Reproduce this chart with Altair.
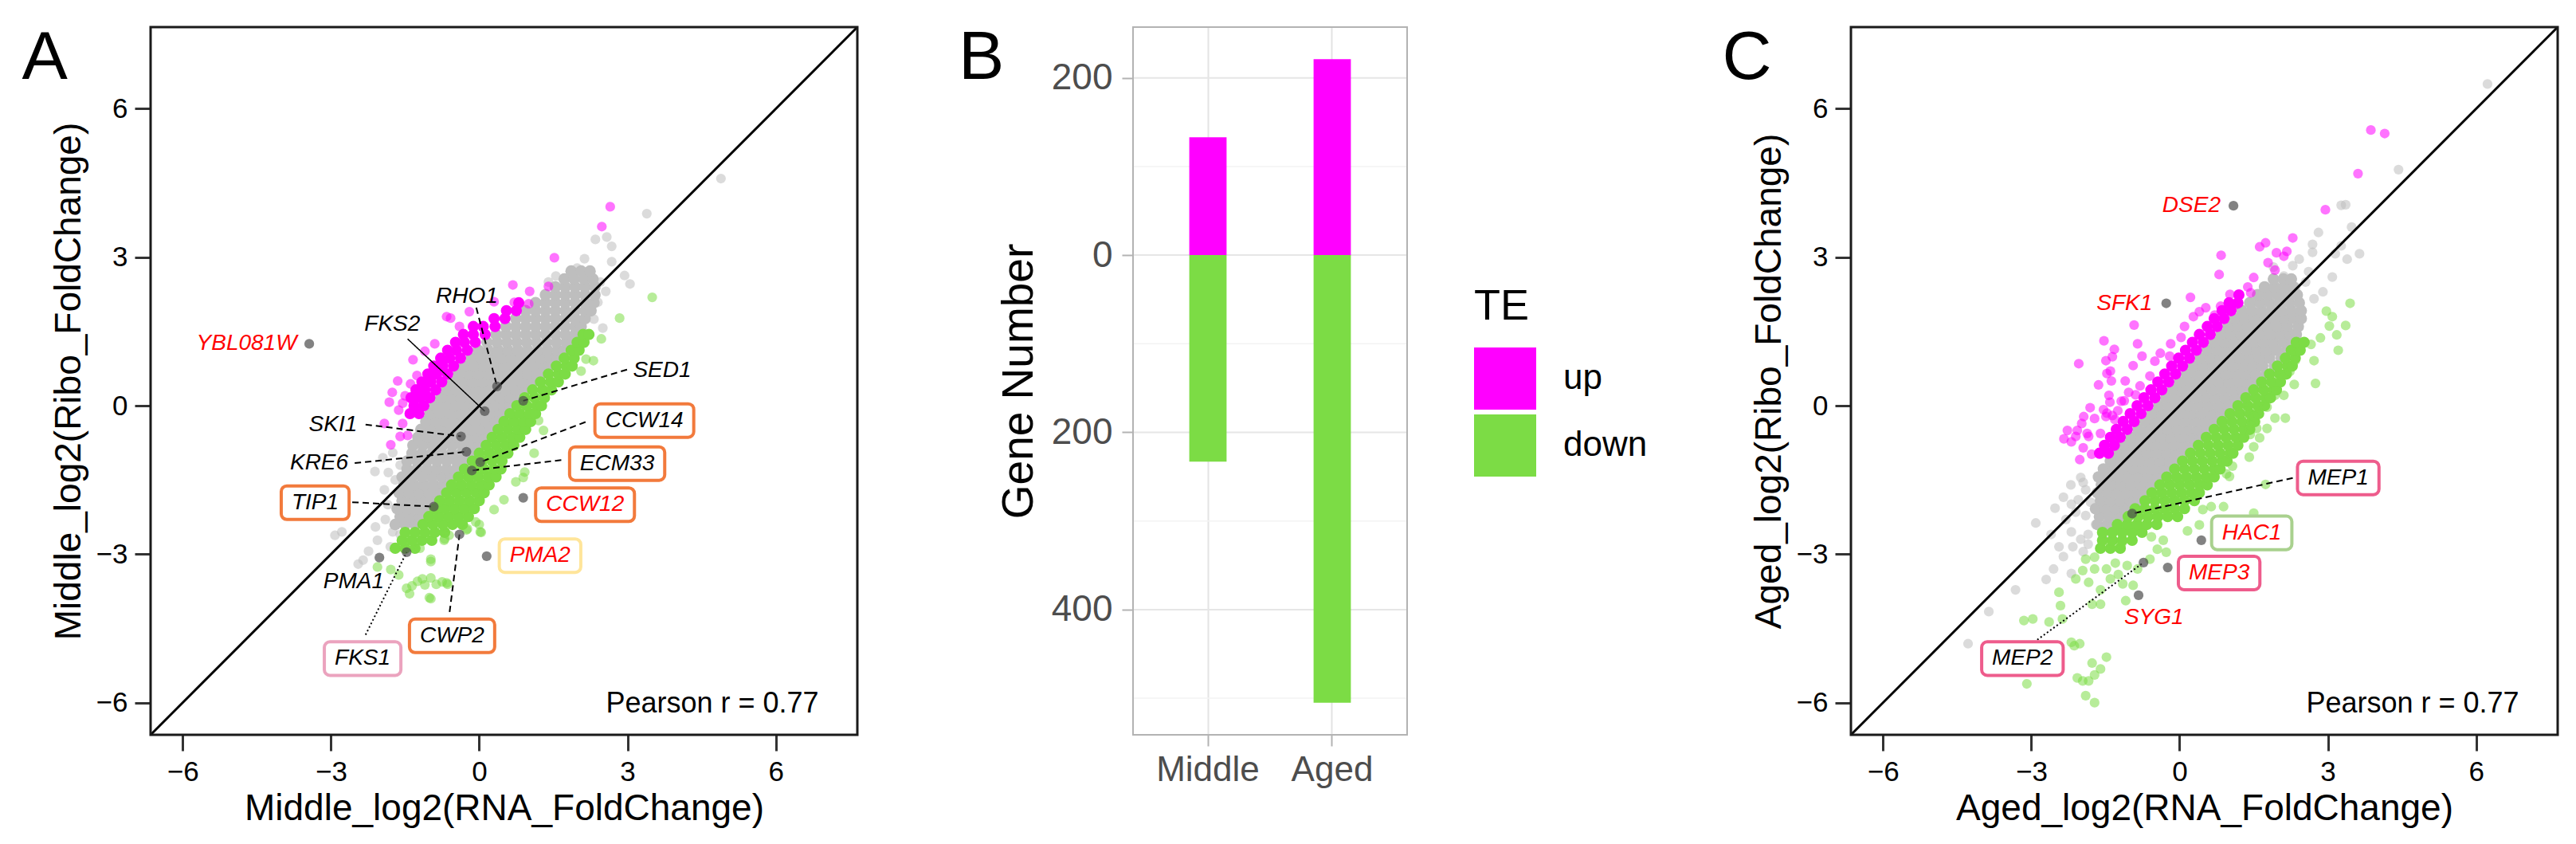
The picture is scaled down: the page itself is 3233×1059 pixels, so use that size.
import altair as alt
import pandas as pd

FONT = "Liberation Sans"
GRAY, MAG, GRN, DARK = "#BEBEBE", "#FF00FF", "#7CDC45", "#4D4D4D"
ORANGE, PINK_L, YELLOW, PINK, LGREEN = "#F27A3C", "#EBA3BE", "#FFE59A", "#EE5C8C", "#A9D18E"
DOM = [-6.65, 7.65]
PXU = 62.0  # pixels per data unit, used only to size label boxes

# ---------------- Panel A : Middle ----------------
A_gray_core = [
    (-2.40, [-1.70, -1.50, -1.30]),
    (-2.24, [-1.60, -1.40, -1.20]),
    (-2.08, [-1.66, -1.46, -1.26, -1.06]),
    (-1.92, [-1.56, -1.36, -1.16, -0.96]),
    (-1.76, [-1.62, -1.42, -1.22, -1.02, -0.82]),
    (-1.60, [-1.52, -1.32, -1.12, -0.92, -0.72]),
    (-1.44, [-1.56, -1.36, -1.16, -0.96, -0.76, -0.56]),
    (-1.28, [-1.46, -1.26, -1.06, -0.86, -0.66, -0.46]),
    (-1.12, [-1.46, -1.26, -1.06, -0.86, -0.66, -0.46, -0.28]),
    (-0.96, [-1.36, -1.16, -0.96, -0.76, -0.56, -0.36, -0.16]),
    (-0.80, [-1.34, -1.14, -0.94, -0.74, -0.54, -0.34, -0.14, 0.00]),
    (-0.64, [-1.24, -1.04, -0.84, -0.64, -0.44, -0.24, -0.04, 0.10]),
    (-0.48, [-1.18, -0.98, -0.78, -0.58, -0.38, -0.18, 0.02, 0.22]),
    (-0.32, [-1.08, -0.88, -0.68, -0.48, -0.28, -0.08, 0.12, 0.32]),
    (-0.16, [-1.00, -0.80, -0.60, -0.40, -0.20, 0.00, 0.20, 0.40, 0.48]),
    (0.00, [-0.90, -0.70, -0.50, -0.30, -0.10, 0.10, 0.30, 0.50, 0.62]),
    (0.16, [-0.78, -0.58, -0.38, -0.18, 0.02, 0.22, 0.42, 0.62, 0.78]),
    (0.32, [-0.66, -0.46, -0.26, -0.06, 0.14, 0.34, 0.54, 0.74, 0.94]),
    (0.48, [-0.54, -0.34, -0.14, 0.06, 0.26, 0.46, 0.66, 0.86, 1.06]),
    (0.64, [-0.42, -0.22, -0.02, 0.18, 0.38, 0.58, 0.78, 0.98, 1.18, 1.26]),
    (0.80, [-0.30, -0.10, 0.10, 0.30, 0.50, 0.70, 0.90, 1.10, 1.30, 1.42]),
    (0.96, [-0.16, 0.04, 0.24, 0.44, 0.64, 0.84, 1.04, 1.24, 1.44, 1.58]),
    (1.12, [-0.02, 0.18, 0.38, 0.58, 0.78, 0.98, 1.18, 1.38, 1.58, 1.72]),
    (1.28, [0.16, 0.36, 0.56, 0.76, 0.96, 1.16, 1.36, 1.56, 1.76, 1.84]),
    (1.44, [0.34, 0.54, 0.74, 0.94, 1.14, 1.34, 1.54, 1.74, 1.94]),
    (1.60, [0.54, 0.74, 0.94, 1.14, 1.34, 1.54, 1.74, 1.94, 2.06]),
    (1.76, [0.74, 0.94, 1.14, 1.34, 1.54, 1.74, 1.94, 2.14]),
    (1.92, [0.94, 1.14, 1.34, 1.54, 1.74, 1.94, 2.14, 2.26]),
    (2.08, [1.14, 1.34, 1.54, 1.74, 1.94, 2.14, 2.32]),
    (2.24, [1.34, 1.54, 1.74, 1.94, 2.14, 2.34]),
    (2.40, [1.54, 1.74, 1.94, 2.14, 2.34]),
    (2.56, [1.72, 1.92, 2.12, 2.30]),
    (2.72, [1.86, 2.06, 2.24]),
]
A_gray_sparse = [
    (4.89, 4.59), (3.39, 3.88), (2.58, 3.41), (2.35, 3.36), (2.68, 3.22), (2.13, 2.97),
    (1.98, 2.78), (2.21, 2.70), (2.68, 2.91), (2.94, 2.63), (3.05, 2.46), (2.56, 2.31),
    (2.40, 2.09), (2.32, 1.75), (2.50, 1.57), (2.45, 2.50), (1.55, 2.62), (1.40, 2.50),
    (-2.92, -2.62), (-2.78, -2.55), (-2.24, -2.94), (-2.35, -3.12), (-2.06, -2.72),
    (-2.11, -1.33), (-1.84, -1.35), (-1.92, -1.70), (-1.85, -2.00), (-1.90, -2.30),
    (-1.75, -2.55), (-1.60, -2.60), (-1.80, -2.85), (-2.10, -2.45), (-1.95, -1.05),
    (-1.75, -0.95), (-1.60, -1.20), (-1.70, -1.50), (-1.55, -2.75), (-2.45, -3.20),
]
A_down_core = [
    (-2.88, [-1.70, -1.50, -1.30]),
    (-2.72, [-1.56, -1.36, -1.16, -0.96]),
    (-2.56, [-1.50, -1.30, -1.10, -0.90, -0.70]),
    (-2.40, [-1.14, -0.94, -0.74, -0.54, -0.34]),
    (-2.24, [-1.02, -0.82, -0.62, -0.42, -0.22]),
    (-2.08, [-0.90, -0.70, -0.50, -0.30, -0.10]),
    (-1.92, [-0.80, -0.60, -0.40, -0.20, 0.00]),
    (-1.76, [-0.66, -0.46, -0.26, -0.06, 0.10]),
    (-1.60, [-0.56, -0.36, -0.16, 0.04, 0.20]),
    (-1.44, [-0.42, -0.22, -0.02, 0.18, 0.34]),
    (-1.28, [-0.30, -0.10, 0.10, 0.30, 0.44]),
    (-1.12, [-0.14, 0.06, 0.26, 0.46]),
    (-0.96, [0.00, 0.20, 0.40, 0.58]),
    (-0.80, [0.14, 0.34, 0.54, 0.70]),
    (-0.64, [0.26, 0.46, 0.66, 0.82]),
    (-0.48, [0.38, 0.58, 0.78, 0.94]),
    (-0.32, [0.50, 0.70, 0.90, 1.04]),
    (-0.16, [0.62, 0.82, 1.02, 1.14]),
    (0.00, [0.76, 0.96, 1.16, 1.26]),
    (0.16, [0.92, 1.12, 1.32]),
    (0.32, [1.08, 1.28, 1.46]),
    (0.48, [1.24, 1.44, 1.60]),
    (0.64, [1.40, 1.60, 1.74]),
    (0.80, [1.56, 1.76, 1.88]),
    (0.96, [1.72, 1.92]),
    (1.12, [1.86, 2.02]),
    (1.28, [1.98, 2.12]),
    (1.44, [2.10, 2.22]),
]
A_down_sparse = [
    (3.50, 2.19), (2.84, 1.77), (2.47, 1.35), (2.16, 0.94), (2.31, 0.91), (2.06, 0.70),
    (1.11, -0.96), (0.89, -1.45), (0.92, -1.34), (0.74, -1.54), (0.00, -2.40), (0.02, -2.55),
    (-0.24, -2.49), (-0.70, -2.69), (-0.98, -3.15), (-0.75, -3.56), (-0.87, -3.61),
    (-0.64, -3.61), (-0.98, -3.90), (-0.61, -2.62), (-0.26, -2.51), (-0.07, -2.35),
    (0.04, -2.56), (-0.71, -2.72), (-0.98, -3.10), (-0.66, -3.58), (-1.01, -3.88),
    (-1.47, -3.69), (-1.36, -3.64), (-1.15, -3.50), (-0.98, -3.48), (-1.63, -3.42),
    (-1.41, -3.80), (-2.06, -3.26), (-1.79, -3.31), (-1.20, -2.88), (1.30, -0.50),
    (1.20, -0.30), (0.50, -1.90), (0.30, -2.10), (-1.25, -3.55), (-1.10, -3.62),
]
A_up_core = [
    (-0.16, [-1.40, -1.22]), (0.00, [-1.32, -1.12]), (0.16, [-1.38, -1.20, -1.00]),
    (0.32, [-1.28, -1.10, -0.88]), (0.48, [-1.16, -0.98, -0.76]), (0.64, [-1.04, -0.86, -0.64]),
    (0.80, [-0.92, -0.74, -0.52]), (0.96, [-0.78, -0.60, -0.38]), (1.12, [-0.64, -0.46, -0.24]),
    (1.28, [-0.48, -0.30, -0.08]), (1.44, [-0.32, -0.12, 0.12]), (1.60, [-0.12, 0.08, 0.32]),
    (1.76, [0.30, 0.52]), (1.92, [0.55, 0.75]), (2.08, [0.80]),
]
A_up_sparse = [
    (-1.34, 0.93), (-1.39, 0.44), (-1.26, 0.61), (-1.76, 0.27), (-1.82, 0.07), (-1.63, -0.09),
    (-1.92, -0.36), (-1.55, -0.36), (-1.60, -0.62), (-1.79, -0.79), (-0.66, 1.80), (-0.58, 1.77),
    (0.68, 2.44), (1.02, 2.31), (1.40, 2.41), (0.71, 2.09), (1.00, 2.06), (1.52, 2.99),
    (2.48, 3.62), (2.65, 4.02), (-1.50, 0.20), (-1.10, 1.10), (-0.90, 1.25), (-0.40, 1.60),
    (-1.55, 0.05), (-1.65, 0.50), (-0.20, 1.90), (0.30, 2.10), (-1.45, -0.60),
]
A_genes = [
    ("YBL081W", -3.44, 1.25), ("RHO1", 0.36, 0.39), ("FKS2", 0.11, -0.11), ("SED1", 0.89, 0.10),
    ("SKI1", -0.37, -0.62), ("KRE6", -0.26, -0.93), ("CCW14", 0.02, -1.14), ("ECM33", -0.15, -1.31),
    ("TIP1", -0.92, -2.04), ("CCW12", 0.89, -1.86), ("CWP2", -0.40, -2.60), ("PMA2", 0.15, -3.04),
    ("PMA1", -2.02, -3.07), ("FKS1", -1.47, -2.96),
]
A_lines = [
    (-0.06, 1.98, 0.36, 0.39, "dash"), (-1.45, 1.35, 0.11, -0.11, "solid"),
    (2.99, 0.73, 0.89, 0.10, "dash"), (-2.30, -0.38, -0.37, -0.62, "dash"),
    (-2.52, -1.16, -0.26, -0.93, "dash"), (-2.57, -1.95, -0.92, -2.04, "dash"),
    (2.15, -0.33, 0.02, -1.14, "dash"), (1.66, -1.10, -0.15, -1.31, "dash"),
    (-0.60, -4.17, -0.40, -2.60, "dash"), (-2.30, -4.63, -1.47, -2.96, "dot"),
]
A_text_center = [("RHO1", -0.25, 2.20, "black"), ("FKS2", -1.76, 1.65, "black"),
                 ("SED1", 3.70, 0.71, "black"), ("PMA1", -2.54, -3.56, "black")]
A_text_right = [("YBL081W", -3.69, 1.25, "red"), ("SKI1", -2.47, -0.38, "black"),
                ("KRE6", -2.65, -1.16, "black")]
A_boxed = [("TIP1", -3.32, -1.96, "black", ORANGE), ("CCW14", 3.34, -0.30, "black", ORANGE),
           ("ECM33", 2.79, -1.17, "black", ORANGE), ("CCW12", 2.14, -2.00, "red", ORANGE),
           ("PMA2", 1.23, -3.03, "red", YELLOW), ("CWP2", -0.55, -4.65, "black", ORANGE),
           ("FKS1", -2.36, -5.11, "black", PINK_L)]

# ---------------- Panel B ----------------
B_cat = ["Middle", "Aged"]
B_up = [133, 221]
B_down = [233, 505]
B_major = [-400, -200, 0, 200]
B_minor = [-500, -300, -100, 100]

# ---------------- Panel C : Aged ----------------
C_gray_core = [
    (-2.40, [-1.66, -1.46]),
    (-2.24, [-1.62, -1.42, -1.22]),
    (-2.08, [-1.70, -1.50, -1.30, -1.10]),
    (-1.92, [-1.60, -1.40, -1.20, -1.00, -0.84]),
    (-1.76, [-1.66, -1.46, -1.26, -1.06, -0.86, -0.68]),
    (-1.60, [-1.58, -1.38, -1.18, -0.98, -0.78, -0.58]),
    (-1.44, [-1.64, -1.44, -1.24, -1.04, -0.84, -0.64, -0.44]),
    (-1.28, [-1.54, -1.34, -1.14, -0.94, -0.74, -0.54, -0.34, -0.20]),
    (-1.12, [-1.40, -1.20, -1.00, -0.80, -0.60, -0.40, -0.20, -0.04]),
    (-0.96, [-1.26, -1.06, -0.86, -0.66, -0.46, -0.26, -0.06, 0.12]),
    (-0.80, [-1.12, -0.92, -0.72, -0.52, -0.32, -0.12, 0.08, 0.28]),
    (-0.64, [-0.98, -0.78, -0.58, -0.38, -0.18, 0.02, 0.22, 0.42]),
    (-0.48, [-0.84, -0.64, -0.44, -0.24, -0.04, 0.16, 0.36, 0.56]),
    (-0.32, [-0.70, -0.50, -0.30, -0.10, 0.10, 0.30, 0.50, 0.70, 0.78]),
    (-0.16, [-0.56, -0.36, -0.16, 0.04, 0.24, 0.44, 0.64, 0.84, 0.92]),
    (0.00, [-0.42, -0.22, -0.02, 0.18, 0.38, 0.58, 0.78, 0.98, 1.10]),
    (0.16, [-0.28, -0.08, 0.12, 0.32, 0.52, 0.72, 0.92, 1.12, 1.28]),
    (0.32, [-0.14, 0.06, 0.26, 0.46, 0.66, 0.86, 1.06, 1.26, 1.44]),
    (0.48, [0.00, 0.20, 0.40, 0.60, 0.80, 1.00, 1.20, 1.40, 1.60]),
    (0.64, [0.14, 0.34, 0.54, 0.74, 0.94, 1.14, 1.34, 1.54, 1.76]),
    (0.80, [0.28, 0.48, 0.68, 0.88, 1.08, 1.28, 1.48, 1.68, 1.92]),
    (0.96, [0.42, 0.62, 0.82, 1.02, 1.22, 1.42, 1.62, 1.82, 2.06]),
    (1.12, [0.56, 0.76, 0.96, 1.16, 1.36, 1.56, 1.76, 1.96, 2.18]),
    (1.28, [0.70, 0.90, 1.10, 1.30, 1.50, 1.70, 1.90, 2.10, 2.28]),
    (1.44, [0.84, 1.04, 1.24, 1.44, 1.64, 1.84, 2.04, 2.24, 2.36]),
    (1.60, [0.98, 1.18, 1.38, 1.58, 1.78, 1.98, 2.18, 2.40]),
    (1.76, [1.12, 1.32, 1.52, 1.72, 1.92, 2.12, 2.32, 2.46]),
    (1.92, [1.26, 1.46, 1.66, 1.86, 2.06, 2.26, 2.46]),
    (2.08, [1.42, 1.62, 1.82, 2.02, 2.22, 2.42]),
    (2.24, [1.58, 1.78, 1.98, 2.18, 2.38]),
    (2.40, [1.72, 1.92, 2.12, 2.30]),
    (2.56, [1.90, 2.10, 2.26]),
]
C_gray_sparse = [
    (6.23, 6.50), (4.43, 4.77), (3.27, 4.05), (3.36, 4.06), (2.81, 3.50), (3.48, 3.61),
    (2.69, 3.26), (2.69, 3.10), (3.15, 3.07), (3.27, 3.23), (3.39, 2.96), (3.64, 3.07),
    (2.61, 2.71), (3.09, 2.60), (2.42, 2.96), (2.29, 2.83), (2.11, 2.62), (2.35, 2.40),
    (2.72, 2.16), (2.90, 2.30), (2.55, 2.50), (1.90, 2.80), (2.00, 2.50),
    (-2.52, -2.07), (-2.91, -2.37), (-2.19, -1.99), (-2.05, -1.90), (-1.90, -2.22),
    (-2.19, -2.55), (-2.44, -2.85), (-2.16, -2.85), (-2.00, -2.70), (-2.55, -3.30),
    (-2.70, -3.51), (-2.19, -3.39), (-3.32, -3.72), (-3.86, -4.16), (-4.28, -4.81),
    (-1.85, -2.60), (-1.95, -2.95), (-2.35, -3.05), (-2.60, -2.60), (-2.30, -2.30),
    (-1.90, -1.70), (-2.00, -1.45), (-2.20, -1.60), (-1.95, -1.55), (-2.35, -1.85),
    (-1.80, -1.95), (-2.10, -2.15), (-1.70, -2.40), (-1.55, -2.65), (-1.85, -2.80),
]
C_down_core = [
    (-2.88, [-1.60, -1.40, -1.20]),
    (-2.72, [-1.56, -1.36, -1.16, -0.96]),
    (-2.56, [-1.56, -1.36, -1.16, -0.96, -0.76]),
    (-2.40, [-1.26, -1.06, -0.86, -0.66, -0.46]),
    (-2.24, [-1.04, -0.84, -0.64, -0.44, -0.24, -0.04]),
    (-2.08, [-0.90, -0.70, -0.50, -0.30, -0.10, 0.10]),
    (-1.92, [-0.70, -0.50, -0.30, -0.10, 0.10, 0.30]),
    (-1.76, [-0.56, -0.36, -0.16, 0.04, 0.24, 0.40]),
    (-1.60, [-0.40, -0.20, 0.00, 0.20, 0.40, 0.56]),
    (-1.44, [-0.26, -0.06, 0.14, 0.34, 0.54, 0.70]),
    (-1.28, [-0.10, 0.10, 0.30, 0.50, 0.70, 0.82]),
    (-1.12, [0.06, 0.26, 0.46, 0.66, 0.86, 0.96]),
    (-0.96, [0.22, 0.42, 0.62, 0.82, 1.02, 1.08]),
    (-0.80, [0.38, 0.58, 0.78, 0.98, 1.18]),
    (-0.64, [0.54, 0.74, 0.94, 1.14, 1.30]),
    (-0.48, [0.70, 0.90, 1.10, 1.30, 1.42]),
    (-0.32, [0.86, 1.06, 1.26, 1.46, 1.52]),
    (-0.16, [1.02, 1.22, 1.42, 1.60]),
    (0.00, [1.18, 1.38, 1.58, 1.72]),
    (0.16, [1.34, 1.54, 1.74, 1.84]),
    (0.32, [1.50, 1.70, 1.90, 1.96]),
    (0.48, [1.66, 1.86, 2.04]),
    (0.64, [1.82, 2.02, 2.16]),
    (0.80, [1.98, 2.18, 2.28]),
    (0.96, [2.14, 2.34]),
    (1.12, [2.26, 2.44]),
    (1.28, [2.36, 2.52]),
]
C_down_sparse = [
    (3.45, 2.07), (3.36, 1.62), (3.18, 1.43), (3.21, 1.12), (2.72, 0.91), (2.75, 0.45),
    (2.34, 0.91), (2.23, 0.69), (2.32, 0.43), (2.11, 0.21), (1.93, 0.21), (2.14, -0.25),
    (1.93, -0.25), (1.77, -0.46), (1.50, -0.83), (1.62, -0.65), (1.44, -0.40), (1.38, -0.10),
    (3.03, 1.61), (3.09, 1.80), (2.85, 1.37), (2.66, 1.24), (2.97, 1.91), (1.77, -0.03),
    (1.50, -0.21), (1.56, -0.46), (1.43, -0.58), (1.41, -1.04), (1.07, -1.22), (0.95, -1.38),
    (1.01, -1.43), (1.74, -1.59), (0.89, -2.04), (0.64, -2.04), (0.47, -2.10), (1.50, -2.17),
    (0.40, -2.41), (0.16, -2.53), (-0.33, -2.72), (-0.57, -2.65), (-0.27, -2.96),
    (-0.94, -3.63), (-1.09, -3.94), (-1.96, -3.33), (-1.72, -3.30), (-1.48, -3.30),
    (-1.24, -3.41), (-1.06, -3.23), (-1.84, -3.57), (-1.60, -3.72), (-1.77, -4.01),
    (-1.60, -4.01), (-2.44, -3.77), (-2.41, -4.04), (-2.37, -4.31), (-2.64, -4.37),
    (-2.97, -4.31), (-3.15, -4.34), (-2.19, -4.78), (-2.02, -4.81), (-2.13, -4.85),
    (-1.48, -5.08), (-1.77, -5.20), (-1.60, -5.32), (-1.72, -5.44), (-1.96, -5.56),
    (-2.07, -5.50), (-1.84, -5.56), (-3.09, -5.62), (-1.90, -5.86), (-1.72, -6.00),
    (-1.72, -3.06), (-1.30, -3.18), (-1.18, -2.81), (-1.40, -3.50), (-1.15, -3.60),
    (-0.85, -3.30), (-0.60, -3.10), (-0.45, -2.90), (-1.90, -3.10), (-2.10, -3.50),
]
C_up_core = [
    (-0.96, [-1.62, -1.44]), (-0.80, [-1.52, -1.32]), (-0.64, [-1.40, -1.20]),
    (-0.48, [-1.28, -1.06]), (-0.32, [-1.14, -0.92]), (-0.16, [-1.00, -0.78]),
    (0.00, [-0.86, -0.64]), (0.16, [-0.72, -0.50]), (0.32, [-0.58, -0.36]),
    (0.48, [-0.44, -0.22]), (0.64, [-0.30, -0.08]), (0.80, [-0.16, 0.06]),
    (0.96, [-0.02, 0.20]), (1.12, [0.12, 0.34]), (1.28, [0.26, 0.48]),
    (1.44, [0.40, 0.62]), (1.60, [0.56, 0.76]), (1.76, [0.70, 0.90]),
    (1.92, [0.86, 1.04]), (2.08, [1.00, 1.18]), (2.24, [1.20]),
]
C_up_sparse = [
    (3.87, 5.57), (4.15, 5.50), (3.61, 4.69), (2.95, 3.96), (2.29, 3.39), (1.62, 3.21),
    (1.74, 3.29), (1.96, 3.09), (2.17, 3.12), (2.11, 3.02), (1.79, 2.89), (1.93, 2.74),
    (0.84, 3.04), (0.80, 2.65), (1.50, 2.59), (1.38, 2.40), (1.44, 2.28), (0.22, 2.19),
    (1.02, 2.25), (1.14, 2.04), (0.53, 1.98), (0.83, 2.01), (0.71, 1.83), (0.28, 1.80),
    (-0.85, 1.25), (-1.49, 0.91), (-1.40, 0.70), (-1.38, 0.50), (-0.94, 0.81), (-0.76, 1.00),
    (-0.39, 1.06), (0.03, 1.38), (-0.18, 1.25), (-1.03, 0.27), (-1.43, 0.21), (-1.18, 0.09),
    (-1.49, -0.22), (-1.31, -0.28), (-1.37, -0.65), (-1.53, 1.31), (-1.32, 1.14), (-1.36, 0.99),
    (-2.04, 0.85), (-1.47, 0.65), (-1.64, 0.42), (-1.81, -0.04), (-1.94, -0.22), (-1.98, -0.36),
    (-2.27, -0.50), (-2.34, -0.67), (-2.10, -0.62), (-1.87, -0.56), (-1.47, -0.15), (-1.41, 0.07),
    (-1.25, -0.10), (-0.92, 1.63), (-2.07, -0.50), (-2.19, -0.73), (-1.84, -0.62),
    (-1.95, -0.85), (-1.60, -0.56), (-1.78, -0.98), (-2.02, -1.09), (-1.54, -0.08), (-1.72, -0.26),
    (-1.36, -0.20), (-1.12, 0.10), (-0.89, 0.22), (-0.60, 0.60), (-0.50, 0.90), (-0.20, 1.00),
    (0.10, 1.60), (0.40, 1.90), (-1.10, 0.50), (-0.80, 0.40),
]
C_genes = [
    ("DSE2", 1.09, 4.04), ("SFK1", -0.27, 2.07), ("MEP1", -0.96, -2.18), ("HAC1", 0.44, -2.72),
    ("MEP3", -0.24, -3.27), ("SYG1", -0.83, -3.83), ("MEP2", -0.73, -3.17),
]
C_lines = [(2.29, -1.46, -0.96, -2.18, "dash"), (-2.88, -4.73, -0.73, -3.17, "dot")]
C_text_center = [("SYG1", -0.52, -4.28, "red")]
C_text_right = [("DSE2", 0.83, 4.04, "red"), ("SFK1", -0.55, 2.07, "red")]
C_boxed = [("MEP1", 3.21, -1.46, "black", PINK), ("HAC1", 1.46, -2.57, "red", LGREEN),
           ("MEP3", 0.80, -3.38, "red", PINK), ("MEP2", -3.18, -5.11, "black", PINK)]

# ---------------- helpers ----------------
CW = {'A': .667, 'B': .667, 'C': .722, 'D': .722, 'E': .667, 'F': .611, 'G': .778, 'H': .722,
      'I': .278, 'K': .667, 'L': .556, 'M': .833, 'N': .722, 'O': .778, 'P': .667, 'R': .722,
      'S': .667, 'T': .611, 'W': .944, 'Y': .667}
LABEL_FS = 28
W_PLOT, H_PLOT = 887, 888


def text_w(s):
    return sum(CW.get(ch, .556) for ch in s) * LABEL_FS


def rows_df(rows):
    return pd.DataFrame([(x, y) for y, xs in rows for x in xs], columns=["x", "y"])


def pts_df(pts):
    return pd.DataFrame(pts, columns=["x", "y"])


def scatter_panel(letter, xtitle, ytitle, gray_core, gray_sparse, down_core, down_sparse,
                  up_core, up_sparse, genes, lines, t_center, t_right, boxed):
    sc = alt.Scale(domain=DOM, nice=False, zero=False)
    common = dict(domain=False, grid=False, ticks=True, tickSize=20, tickWidth=3,
                  tickColor="#333333", labelFontSize=35, labelColor="#000000", labelFont=FONT,
                  labelPadding=9, titleFontSize=46, titleFont=FONT, titleFontWeight="normal",
                  titleColor="#000000", values=[-6, -3, 0, 3, 6])
    ax_x = alt.Axis(title=xtitle, titlePadding=6, **common)
    ax_y = alt.Axis(title=ytitle, titlePadding=10, **common)

    def X(f):
        return alt.X(f, type="quantitative", scale=sc, axis=ax_x)

    def Y(f):
        return alt.Y(f, type="quantitative", scale=sc, axis=ax_y)

    def circles(df, color, op, size):
        return alt.Chart(df).mark_circle(color=color, opacity=op, size=size).encode(x=X("x"), y=Y("y"))

    layers = [
        circles(pts_df(gray_sparse), GRAY, 0.55, 150),
        circles(rows_df(gray_core), GRAY, 1.0, 215),
        circles(rows_df(down_core), GRN, 1.0, 200),
        circles(pts_df(down_sparse), GRN, 0.55, 150),
        circles(rows_df(up_core), MAG, 1.0, 200),
        circles(pts_df(up_sparse), MAG, 0.55, 150),
    ]
    diag = pd.DataFrame({"x": [DOM[0]], "y": [DOM[0]], "x2": [DOM[1]], "y2": [DOM[1]]})
    layers.append(alt.Chart(diag).mark_rule(color="#000000", strokeWidth=3).encode(
        x=X("x"), y=Y("y"), x2="x2:Q", y2="y2:Q"))
    ldf = pd.DataFrame(lines, columns=["x", "y", "x2", "y2", "s"])
    for style, dash, w in [("dash", [8, 5], 2), ("dot", [2, 3], 2), ("solid", [1, 0], 1.5)]:
        sub = ldf[ldf.s == style]
        if len(sub):
            layers.append(alt.Chart(sub).mark_rule(color="#000000", strokeWidth=w, strokeDash=dash).encode(
                x=X("x"), y=Y("y"), x2="x2:Q", y2="y2:Q"))
    gdf = pd.DataFrame(genes, columns=["g", "x", "y"])
    layers.append(circles(gdf, DARK, 0.7, 150))
    bdf = pd.DataFrame(boxed, columns=["g", "x", "y", "tc", "bc"])
    bdf["x1"] = bdf.x - (bdf.g.map(text_w) + 26) / 2 / PXU
    bdf["x2"] = bdf.x + (bdf.g.map(text_w) + 26) / 2 / PXU
    bdf["y1"] = bdf.y - 21 / PXU
    bdf["y2"] = bdf.y + 21 / PXU
    layers.append(alt.Chart(bdf).mark_rect(fill="#FFFFFF", strokeWidth=4, cornerRadius=7).encode(
        x=X("x1"), x2="x2:Q", y=Y("y1"), y2="y2:Q", stroke=alt.Stroke("bc:N", scale=None)))
    tdf = pd.concat([bdf[["g", "x", "y", "tc"]],
                     pd.DataFrame(t_center, columns=["g", "x", "y", "tc"])])
    layers.append(alt.Chart(tdf).mark_text(font=FONT, fontSize=LABEL_FS, fontStyle="italic",
                                           align="center", baseline="middle").encode(
        x=X("x"), y=Y("y"), text="g:N", color=alt.Color("tc:N", scale=None)))
    rdf = pd.DataFrame(t_right, columns=["g", "x", "y", "tc"])
    layers.append(alt.Chart(rdf).mark_text(font=FONT, fontSize=LABEL_FS, fontStyle="italic",
                                           align="right", baseline="middle").encode(
        x=X("x"), y=Y("y"), text="g:N", color=alt.Color("tc:N", scale=None)))
    pdf = pd.DataFrame({"x": [6.87], "y": [-6.2], "t": ["Pearson r = 0.77"]})
    layers.append(alt.Chart(pdf).mark_text(font=FONT, fontSize=36, align="right",
                                           baseline="alphabetic", color="#000000").encode(
        x=X("x"), y=Y("y"), text="t:N"))
    frame = alt.Chart(pd.DataFrame({"a": [0]})).mark_rect(
        fillOpacity=0, stroke="#1A1A1A", strokeWidth=3).encode(
        x=alt.value(0), x2=alt.value(W_PLOT), y=alt.value(0), y2=alt.value(H_PLOT))
    layers.append(frame)
    let = pd.DataFrame({"t": [letter]})
    layers.append(alt.Chart(let).mark_text(font=FONT, fontSize=86, align="left",
                                           baseline="alphabetic", color="#000000").encode(
        x=alt.value(-161.6), y=alt.value(65), text="t:N"))
    return alt.layer(*layers).properties(width=W_PLOT, height=H_PLOT)


A = scatter_panel("A", "Middle_log2(RNA_FoldChange)", "Middle_log2(Ribo_FoldChange)",
                  A_gray_core, A_gray_sparse, A_down_core, A_down_sparse, A_up_core, A_up_sparse,
                  A_genes, A_lines, A_text_center, A_text_right, A_boxed)
C = scatter_panel("C", "Aged_log2(RNA_FoldChange)", "Aged_log2(Ribo_FoldChange)",
                  C_gray_core, C_gray_sparse, C_down_core, C_down_sparse, C_up_core, C_up_sparse,
                  C_genes, C_lines, C_text_center, C_text_right, C_boxed)

# ---------------- Panel B ----------------
bars = []
for c, u, d in zip(B_cat, B_up, B_down):
    bars.append({"cat": c, "TE": "up", "v": u, "v0": 0})
    bars.append({"cat": c, "TE": "down", "v": -d, "v0": 0})
bars = pd.DataFrame(bars)
ysB = alt.Scale(domain=[-541.3, 257.3], nice=False, zero=False)
axB_y = alt.Axis(values=B_major, labelExpr="'' + abs(datum.value)", grid=False, domain=False,
                 tickColor="#B3B3B3", tickSize=14, tickWidth=2, labelFontSize=46,
                 labelColor="#4D4D4D", labelFont=FONT, labelPadding=12, title="Gene Number",
                 titleFontSize=55, titleFont=FONT, titleFontWeight="normal", titleColor="#000000",
                 titlePadding=12)
xsB = alt.Scale(domain=B_cat, range=[0, 344], paddingInner=0.7, paddingOuter=0.4526)
axB_x = alt.Axis(title=None, labelAngle=0, grid=True, gridColor="#E3E3E3", gridWidth=2,
                 domain=False, tickColor="#B3B3B3", tickSize=14, tickWidth=2, bandPosition=0.5,
                 labelPadding=8, labelFontSize=44, labelColor="#4D4D4D", labelFont=FONT)
minor_df = pd.DataFrame({"v": B_minor})
major_df = pd.DataFrame({"v": B_major})
gridB_minor = alt.Chart(minor_df).mark_rule(color="#F3F3F3", strokeWidth=1.5).encode(
    y=alt.Y("v:Q", scale=ysB, axis=axB_y), x=alt.value(0), x2=alt.value(344))
gridB_major = alt.Chart(major_df).mark_rule(color="#E6E6E6", strokeWidth=2).encode(
    y=alt.Y("v:Q", scale=ysB, axis=axB_y), x=alt.value(0), x2=alt.value(344))
# legend position is relative to the whole concatenated chart (origin = panel A plot corner)
barsB = alt.Chart(bars).mark_bar().encode(
    x=alt.X("cat:N", scale=xsB, axis=axB_x, sort=B_cat),
    y=alt.Y("v:Q", scale=ysB, axis=axB_y), y2="v0:Q",
    color=alt.Color("TE:N", scale=alt.Scale(domain=["up", "down"], range=[MAG, GRN]),
                    legend=alt.Legend(title="TE", orient="none", legendX=1661, legendY=324,
                                      symbolType="square", symbolSize=6084, symbolStrokeWidth=0,
                                      symbolOpacity=1, titleFontSize=54, titleFont=FONT,
                                      titleFontWeight="normal", titleColor="#000000",
                                      labelFontSize=44, labelFont=FONT, labelColor="#000000",
                                      labelOffset=34, titlePadding=24, rowPadding=6)))
frameB = alt.Chart(pd.DataFrame({"a": [0]})).mark_rect(
    fillOpacity=0, stroke="#B3B3B3", strokeWidth=2).encode(
    x=alt.value(0), x2=alt.value(344), y=alt.value(0), y2=alt.value(H_PLOT))
letterB = alt.Chart(pd.DataFrame({"t": ["B"]})).mark_text(
    font=FONT, fontSize=86, align="left", baseline="alphabetic", color="#000000").encode(
    x=alt.value(-219), y=alt.value(65), text="t:N")
B = alt.layer(gridB_minor, gridB_major, barsB, frameB, letterB).properties(width=555, height=H_PLOT)

chart = alt.hconcat(A, B, C, spacing=346, bounds="flush").properties(
    padding={"left": 19, "top": 22, "right": 4, "bottom": 4}
).configure_view(strokeOpacity=0)

chart.save("out.html", embed_options={"renderer": "svg", "actions": False})
